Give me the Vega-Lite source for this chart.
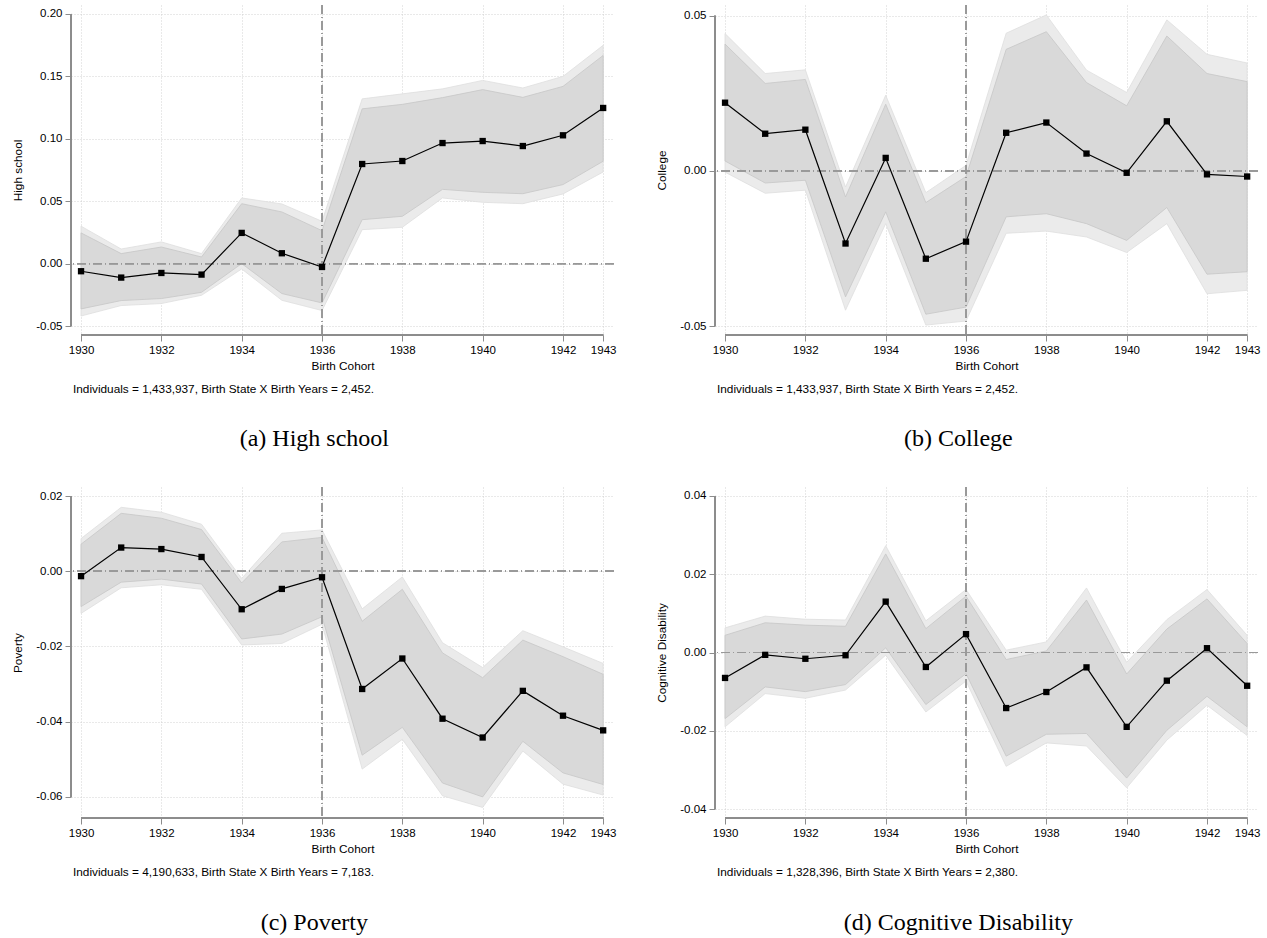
{
  "$schema": "https://vega.github.io/schema/vega-lite/v6.json",
  "background": "white",
  "padding": {"left": 12, "top": 4, "right": 4, "bottom": 4},
  "datasets": {
    "hs": [
      {"year": 1930, "est": -0.0061, "ci95_lo": -0.042, "ci95_hi": 0.030, "ci90_lo": -0.0363, "ci90_hi": 0.0246},
      {"year": 1931, "est": -0.0112, "ci95_lo": -0.0336, "ci95_hi": 0.0117, "ci90_lo": -0.0296, "ci90_hi": 0.008},
      {"year": 1932, "est": -0.0075, "ci95_lo": -0.032, "ci95_hi": 0.0174, "ci90_lo": -0.028, "ci90_hi": 0.0133},
      {"year": 1933, "est": -0.0088, "ci95_lo": -0.0254, "ci95_hi": 0.008, "ci90_lo": -0.023, "ci90_hi": 0.0053},
      {"year": 1934, "est": 0.0246, "ci95_lo": -0.0043, "ci95_hi": 0.0526, "ci90_lo": 0.000, "ci90_hi": 0.048},
      {"year": 1935, "est": 0.0083, "ci95_lo": -0.0294, "ci95_hi": 0.0478, "ci90_lo": -0.024, "ci90_hi": 0.0414},
      {"year": 1936, "est": -0.0027, "ci95_lo": -0.0376, "ci95_hi": 0.0339, "ci90_lo": -0.0315, "ci90_hi": 0.0264},
      {"year": 1937, "est": 0.0798, "ci95_lo": 0.0272, "ci95_hi": 0.132, "ci90_lo": 0.0352, "ci90_hi": 0.124},
      {"year": 1938, "est": 0.0822, "ci95_lo": 0.0291, "ci95_hi": 0.136, "ci90_lo": 0.0379, "ci90_hi": 0.1276},
      {"year": 1939, "est": 0.0966, "ci95_lo": 0.0526, "ci95_hi": 0.140, "ci90_lo": 0.0595, "ci90_hi": 0.133},
      {"year": 1940, "est": 0.0982, "ci95_lo": 0.0491, "ci95_hi": 0.1468, "ci90_lo": 0.0571, "ci90_hi": 0.1394},
      {"year": 1941, "est": 0.0942, "ci95_lo": 0.048, "ci95_hi": 0.1407, "ci90_lo": 0.056, "ci90_hi": 0.1332},
      {"year": 1942, "est": 0.1028, "ci95_lo": 0.0558, "ci95_hi": 0.150, "ci90_lo": 0.0633, "ci90_hi": 0.142},
      {"year": 1943, "est": 0.1247, "ci95_lo": 0.0734, "ci95_hi": 0.1749, "ci90_lo": 0.082, "ci90_hi": 0.1668}
    ],
    "college": [
      {"year": 1930, "est": 0.0220, "ci95_lo": -0.0004, "ci95_hi": 0.0443, "ci90_lo": 0.0032, "ci90_hi": 0.0409},
      {"year": 1931, "est": 0.0120, "ci95_lo": -0.0072, "ci95_hi": 0.0314, "ci90_lo": -0.0039, "ci90_hi": 0.0282},
      {"year": 1932, "est": 0.0133, "ci95_lo": -0.0062, "ci95_hi": 0.0326, "ci90_lo": -0.003, "ci90_hi": 0.0295},
      {"year": 1933, "est": -0.0234, "ci95_lo": -0.0449, "ci95_hi": -0.0052, "ci90_lo": -0.0406, "ci90_hi": -0.0084},
      {"year": 1934, "est": 0.0042, "ci95_lo": -0.017, "ci95_hi": 0.0244, "ci90_lo": -0.0132, "ci90_hi": 0.0215},
      {"year": 1935, "est": -0.0283, "ci95_lo": -0.0497, "ci95_hi": -0.007, "ci90_lo": -0.0462, "ci90_hi": -0.0102},
      {"year": 1936, "est": -0.0228, "ci95_lo": -0.0484, "ci95_hi": 0.0018, "ci90_lo": -0.0439, "ci90_hi": -0.0018},
      {"year": 1937, "est": 0.0123, "ci95_lo": -0.0201, "ci95_hi": 0.0444, "ci90_lo": -0.0148, "ci90_hi": 0.0392},
      {"year": 1938, "est": 0.0156, "ci95_lo": -0.0194, "ci95_hi": 0.0503, "ci90_lo": -0.0138, "ci90_hi": 0.0449},
      {"year": 1939, "est": 0.0056, "ci95_lo": -0.0213, "ci95_hi": 0.0325, "ci90_lo": -0.017, "ci90_hi": 0.0285},
      {"year": 1940, "est": -0.0006, "ci95_lo": -0.0263, "ci95_hi": 0.0253, "ci90_lo": -0.0224, "ci90_hi": 0.021},
      {"year": 1941, "est": 0.0160, "ci95_lo": -0.017, "ci95_hi": 0.0487, "ci90_lo": -0.0118, "ci90_hi": 0.0435},
      {"year": 1942, "est": -0.0011, "ci95_lo": -0.0396, "ci95_hi": 0.0376, "ci90_lo": -0.0333, "ci90_hi": 0.0314},
      {"year": 1943, "est": -0.0018, "ci95_lo": -0.0385, "ci95_hi": 0.0348, "ci90_lo": -0.0325, "ci90_hi": 0.0288}
    ],
    "poverty": [
      {"year": 1930, "est": -0.0013, "ci95_lo": -0.0112, "ci95_hi": 0.0087, "ci90_lo": -0.0094, "ci90_hi": 0.0072},
      {"year": 1931, "est": 0.0063, "ci95_lo": -0.0044, "ci95_hi": 0.017, "ci90_lo": -0.0029, "ci90_hi": 0.0154},
      {"year": 1932, "est": 0.0059, "ci95_lo": -0.0036, "ci95_hi": 0.0157, "ci90_lo": -0.0021, "ci90_hi": 0.0141},
      {"year": 1933, "est": 0.0038, "ci95_lo": -0.0048, "ci95_hi": 0.0125, "ci90_lo": -0.0034, "ci90_hi": 0.0111},
      {"year": 1934, "est": -0.0101, "ci95_lo": -0.0196, "ci95_hi": -0.0019, "ci90_lo": -0.018, "ci90_hi": -0.0031},
      {"year": 1935, "est": -0.0047, "ci95_lo": -0.0192, "ci95_hi": 0.0101, "ci90_lo": -0.0167, "ci90_hi": 0.0078},
      {"year": 1936, "est": -0.0016, "ci95_lo": -0.0141, "ci95_hi": 0.011, "ci90_lo": -0.0121, "ci90_hi": 0.009},
      {"year": 1937, "est": -0.0313, "ci95_lo": -0.0526, "ci95_hi": -0.010, "ci90_lo": -0.0489, "ci90_hi": -0.0133},
      {"year": 1938, "est": -0.0232, "ci95_lo": -0.0447, "ci95_hi": -0.0015, "ci90_lo": -0.0415, "ci90_hi": -0.0048},
      {"year": 1939, "est": -0.0392, "ci95_lo": -0.0597, "ci95_hi": -0.019, "ci90_lo": -0.0563, "ci90_hi": -0.0217},
      {"year": 1940, "est": -0.0442, "ci95_lo": -0.0628, "ci95_hi": -0.0256, "ci90_lo": -0.060, "ci90_hi": -0.0283},
      {"year": 1941, "est": -0.0318, "ci95_lo": -0.0478, "ci95_hi": -0.0158, "ci90_lo": -0.0452, "ci90_hi": -0.0183},
      {"year": 1942, "est": -0.0384, "ci95_lo": -0.0566, "ci95_hi": -0.0201, "ci90_lo": -0.0536, "ci90_hi": -0.0227},
      {"year": 1943, "est": -0.0423, "ci95_lo": -0.0595, "ci95_hi": -0.0245, "ci90_lo": -0.0567, "ci90_hi": -0.0274}
    ],
    "cognitive": [
      {"year": 1930, "est": -0.0065, "ci95_lo": -0.019, "ci95_hi": 0.0063, "ci90_lo": -0.0169, "ci90_hi": 0.0044},
      {"year": 1931, "est": -0.0006, "ci95_lo": -0.0105, "ci95_hi": 0.0093, "ci90_lo": -0.0088, "ci90_hi": 0.0076},
      {"year": 1932, "est": -0.0016, "ci95_lo": -0.0117, "ci95_hi": 0.0085, "ci90_lo": -0.010, "ci90_hi": 0.007},
      {"year": 1933, "est": -0.0007, "ci95_lo": -0.0096, "ci95_hi": 0.0083, "ci90_lo": -0.0082, "ci90_hi": 0.0067},
      {"year": 1934, "est": 0.0130, "ci95_lo": -0.0007, "ci95_hi": 0.0273, "ci90_lo": 0.0012, "ci90_hi": 0.0252},
      {"year": 1935, "est": -0.0037, "ci95_lo": -0.0152, "ci95_hi": 0.0081, "ci90_lo": -0.0133, "ci90_hi": 0.0061},
      {"year": 1936, "est": 0.0047, "ci95_lo": -0.0073, "ci95_hi": 0.0161, "ci90_lo": -0.0054, "ci90_hi": 0.0144},
      {"year": 1937, "est": -0.0142, "ci95_lo": -0.0291, "ci95_hi": 0.0006, "ci90_lo": -0.0265, "ci90_hi": -0.0018},
      {"year": 1938, "est": -0.0101, "ci95_lo": -0.0231, "ci95_hi": 0.0027, "ci90_lo": -0.0209, "ci90_hi": 0.0004},
      {"year": 1939, "est": -0.0038, "ci95_lo": -0.0239, "ci95_hi": 0.0165, "ci90_lo": -0.0207, "ci90_hi": 0.0134},
      {"year": 1940, "est": -0.0190, "ci95_lo": -0.0346, "ci95_hi": -0.0025, "ci90_lo": -0.0321, "ci90_hi": -0.0055},
      {"year": 1941, "est": -0.0072, "ci95_lo": -0.0224, "ci95_hi": 0.0084, "ci90_lo": -0.0199, "ci90_hi": 0.006},
      {"year": 1942, "est": 0.0011, "ci95_lo": -0.0135, "ci95_hi": 0.0161, "ci90_lo": -0.0112, "ci90_hi": 0.0137},
      {"year": 1943, "est": -0.0085, "ci95_lo": -0.0212, "ci95_hi": 0.0044, "ci90_lo": -0.019, "ci90_hi": 0.0023}
    ]
  },
  "spacing": 34,
  "vconcat": [
    {
      "spacing": 40,
      "hconcat": [
        {
          "title": {"text": "(a) High school", "orient": "bottom", "anchor": "middle", "font": "Liberation Serif", "fontSize": 24, "fontWeight": "normal", "offset": 31, "color": "#000"},
          "vconcat": [
            {
              "width": 543, "height": 330,
              "data": {"name": "hs"},
              "title": {"text": "Individuals = 1,433,937, Birth State X Birth Years = 2,452.", "orient": "bottom", "anchor": "start", "frame": "group", "offset": 12, "dx": 2, "font": "Liberation Sans", "fontSize": 11.8, "fontWeight": "normal", "color": "#000"},
              "layer": [
                {"mark": {"type": "area", "fill": "#ebebeb", "stroke": "#dedede", "strokeWidth": 0.8},
                 "encoding": {
                   "x": {"field": "year", "type": "quantitative", "scale": {"domain": [1929.75, 1943.27], "nice": false, "zero": false}, "axis": {"title": "Birth Cohort", "values": [1930, 1932, 1934, 1936, 1938, 1940, 1942, 1943], "format": "d", "labelFlush": false, "labelOverlap": false}},
                   "y": {"field": "ci95_lo", "type": "quantitative", "scale": {"domain": [-0.0572, 0.2072], "nice": false, "zero": false}, "axis": {"title": "High school", "values": [-0.05, 0, 0.05, 0.1, 0.15, 0.2], "format": ".2f", "labelExpr": "replace(datum.label, '\u2212', '-')"}},
                   "y2": {"field": "ci95_hi"}}},
                {"mark": {"type": "area", "fill": "#d9d9d9", "stroke": "#c6c6c6", "strokeWidth": 0.8},
                 "encoding": {
                   "x": {"field": "year", "type": "quantitative"},
                   "y": {"field": "ci90_lo", "type": "quantitative"},
                   "y2": {"field": "ci90_hi"}}},
                {"mark": {"type": "rule", "color": "#999999", "strokeWidth": 1, "strokeDash": [9, 3, 1, 3]},
                 "encoding": {"y": {"datum": 0, "type": "quantitative"}}},
                {"mark": {"type": "rule", "color": "#999999", "strokeWidth": 1, "strokeDash": [9, 3, 1, 3]},
                 "encoding": {"x": {"datum": 1936, "type": "quantitative"}}},
                {"mark": {"type": "rule", "color": "#8c8c8c", "strokeWidth": 1},
                 "encoding": {"x": {"datum": 1930, "type": "quantitative"}, "x2": {"datum": 1943}, "y": {"datum": -0.0572, "type": "quantitative"}}},
                {"mark": {"type": "rule", "color": "#8c8c8c", "strokeWidth": 1},
                 "encoding": {"y": {"datum": -0.05, "type": "quantitative"}, "y2": {"datum": 0.2}, "x": {"datum": 1929.75, "type": "quantitative"}}},
                {"mark": {"type": "line", "color": "#000000", "strokeWidth": 1.2},
                 "encoding": {
                   "x": {"field": "year", "type": "quantitative"},
                   "y": {"field": "est", "type": "quantitative"}}},
                {"mark": {"type": "point", "shape": "square", "filled": true, "color": "#000000", "size": 40, "opacity": 1},
                 "encoding": {
                   "x": {"field": "year", "type": "quantitative"},
                   "y": {"field": "est", "type": "quantitative"}}}
              ]
            }
          ]
        },
        {
          "title": {"text": "(b) College", "orient": "bottom", "anchor": "middle", "font": "Liberation Serif", "fontSize": 24, "fontWeight": "normal", "offset": 31, "color": "#000"},
          "vconcat": [
            {
              "width": 543, "height": 330,
              "data": {"name": "college"},
              "title": {"text": "Individuals = 1,433,937, Birth State X Birth Years = 2,452.", "orient": "bottom", "anchor": "start", "frame": "group", "offset": 12, "dx": 2, "font": "Liberation Sans", "fontSize": 11.8, "fontWeight": "normal", "color": "#000"},
              "layer": [
                {"mark": {"type": "area", "fill": "#ebebeb", "stroke": "#dedede", "strokeWidth": 0.8},
                 "encoding": {
                   "x": {"field": "year", "type": "quantitative", "scale": {"domain": [1929.75, 1943.27], "nice": false, "zero": false}, "axis": {"title": "Birth Cohort", "values": [1930, 1932, 1934, 1936, 1938, 1940, 1942, 1943], "format": "d", "labelFlush": false, "labelOverlap": false}},
                   "y": {"field": "ci95_lo", "type": "quantitative", "scale": {"domain": [-0.0529, 0.0535], "nice": false, "zero": false}, "axis": {"title": "College", "values": [-0.05, 0, 0.05], "format": ".2f", "labelExpr": "replace(datum.label, '\u2212', '-')"}},
                   "y2": {"field": "ci95_hi"}}},
                {"mark": {"type": "area", "fill": "#d9d9d9", "stroke": "#c6c6c6", "strokeWidth": 0.8},
                 "encoding": {
                   "x": {"field": "year", "type": "quantitative"},
                   "y": {"field": "ci90_lo", "type": "quantitative"},
                   "y2": {"field": "ci90_hi"}}},
                {"mark": {"type": "rule", "color": "#999999", "strokeWidth": 1, "strokeDash": [9, 3, 1, 3]},
                 "encoding": {"y": {"datum": 0, "type": "quantitative"}}},
                {"mark": {"type": "rule", "color": "#999999", "strokeWidth": 1, "strokeDash": [9, 3, 1, 3]},
                 "encoding": {"x": {"datum": 1936, "type": "quantitative"}}},
                {"mark": {"type": "rule", "color": "#8c8c8c", "strokeWidth": 1},
                 "encoding": {"x": {"datum": 1930, "type": "quantitative"}, "x2": {"datum": 1943}, "y": {"datum": -0.0529, "type": "quantitative"}}},
                {"mark": {"type": "rule", "color": "#8c8c8c", "strokeWidth": 1},
                 "encoding": {"y": {"datum": -0.05, "type": "quantitative"}, "y2": {"datum": 0.05}, "x": {"datum": 1929.75, "type": "quantitative"}}},
                {"mark": {"type": "line", "color": "#000000", "strokeWidth": 1.2},
                 "encoding": {
                   "x": {"field": "year", "type": "quantitative"},
                   "y": {"field": "est", "type": "quantitative"}}},
                {"mark": {"type": "point", "shape": "square", "filled": true, "color": "#000000", "size": 40, "opacity": 1},
                 "encoding": {
                   "x": {"field": "year", "type": "quantitative"},
                   "y": {"field": "est", "type": "quantitative"}}}
              ]
            }
          ]
        }
      ]
    },
    {
      "spacing": 40,
      "hconcat": [
        {
          "title": {"text": "(c) Poverty", "orient": "bottom", "anchor": "middle", "font": "Liberation Serif", "fontSize": 24, "fontWeight": "normal", "offset": 32, "color": "#000"},
          "vconcat": [
            {
              "width": 543, "height": 331,
              "data": {"name": "poverty"},
              "title": {"text": "Individuals = 4,190,633, Birth State X Birth Years = 7,183.", "orient": "bottom", "anchor": "start", "frame": "group", "offset": 12, "dx": 2, "font": "Liberation Sans", "fontSize": 11.8, "fontWeight": "normal", "color": "#000"},
              "layer": [
                {"mark": {"type": "area", "fill": "#ebebeb", "stroke": "#dedede", "strokeWidth": 0.8},
                 "encoding": {
                   "x": {"field": "year", "type": "quantitative", "scale": {"domain": [1929.75, 1943.27], "nice": false, "zero": false}, "axis": {"title": "Birth Cohort", "values": [1930, 1932, 1934, 1936, 1938, 1940, 1942, 1943], "format": "d", "labelFlush": false, "labelOverlap": false}},
                   "y": {"field": "ci95_lo", "type": "quantitative", "scale": {"domain": [-0.0656, 0.0224], "nice": false, "zero": false}, "axis": {"title": "Poverty", "values": [-0.06, -0.04, -0.02, 0, 0.02], "format": ".2f", "labelExpr": "replace(datum.label, '\u2212', '-')"}},
                   "y2": {"field": "ci95_hi"}}},
                {"mark": {"type": "area", "fill": "#d9d9d9", "stroke": "#c6c6c6", "strokeWidth": 0.8},
                 "encoding": {
                   "x": {"field": "year", "type": "quantitative"},
                   "y": {"field": "ci90_lo", "type": "quantitative"},
                   "y2": {"field": "ci90_hi"}}},
                {"mark": {"type": "rule", "color": "#999999", "strokeWidth": 1, "strokeDash": [9, 3, 1, 3]},
                 "encoding": {"y": {"datum": 0, "type": "quantitative"}}},
                {"mark": {"type": "rule", "color": "#999999", "strokeWidth": 1, "strokeDash": [9, 3, 1, 3]},
                 "encoding": {"x": {"datum": 1936, "type": "quantitative"}}},
                {"mark": {"type": "rule", "color": "#8c8c8c", "strokeWidth": 1},
                 "encoding": {"x": {"datum": 1930, "type": "quantitative"}, "x2": {"datum": 1943}, "y": {"datum": -0.0656, "type": "quantitative"}}},
                {"mark": {"type": "rule", "color": "#8c8c8c", "strokeWidth": 1},
                 "encoding": {"y": {"datum": -0.06, "type": "quantitative"}, "y2": {"datum": 0.02}, "x": {"datum": 1929.75, "type": "quantitative"}}},
                {"mark": {"type": "line", "color": "#000000", "strokeWidth": 1.2},
                 "encoding": {
                   "x": {"field": "year", "type": "quantitative"},
                   "y": {"field": "est", "type": "quantitative"}}},
                {"mark": {"type": "point", "shape": "square", "filled": true, "color": "#000000", "size": 40, "opacity": 1},
                 "encoding": {
                   "x": {"field": "year", "type": "quantitative"},
                   "y": {"field": "est", "type": "quantitative"}}}
              ]
            }
          ]
        },
        {
          "title": {"text": "(d) Cognitive Disability", "orient": "bottom", "anchor": "middle", "font": "Liberation Serif", "fontSize": 24, "fontWeight": "normal", "offset": 32, "color": "#000"},
          "vconcat": [
            {
              "width": 543, "height": 331,
              "data": {"name": "cognitive"},
              "title": {"text": "Individuals = 1,328,396, Birth State X Birth Years = 2,380.", "orient": "bottom", "anchor": "start", "frame": "group", "offset": 12, "dx": 2, "font": "Liberation Sans", "fontSize": 11.8, "fontWeight": "normal", "color": "#000"},
              "layer": [
                {"mark": {"type": "area", "fill": "#ebebeb", "stroke": "#dedede", "strokeWidth": 0.8},
                 "encoding": {
                   "x": {"field": "year", "type": "quantitative", "scale": {"domain": [1929.75, 1943.27], "nice": false, "zero": false}, "axis": {"title": "Birth Cohort", "values": [1930, 1932, 1934, 1936, 1938, 1940, 1942, 1943], "format": "d", "labelFlush": false, "labelOverlap": false}},
                   "y": {"field": "ci95_lo", "type": "quantitative", "scale": {"domain": [-0.0423, 0.0423], "nice": false, "zero": false}, "axis": {"title": "Cognitive Disability", "values": [-0.04, -0.02, 0, 0.02, 0.04], "format": ".2f", "labelExpr": "replace(datum.label, '\u2212', '-')"}},
                   "y2": {"field": "ci95_hi"}}},
                {"mark": {"type": "area", "fill": "#d9d9d9", "stroke": "#c6c6c6", "strokeWidth": 0.8},
                 "encoding": {
                   "x": {"field": "year", "type": "quantitative"},
                   "y": {"field": "ci90_lo", "type": "quantitative"},
                   "y2": {"field": "ci90_hi"}}},
                {"mark": {"type": "rule", "color": "#999999", "strokeWidth": 1, "strokeDash": [9, 3, 1, 3]},
                 "encoding": {"y": {"datum": 0, "type": "quantitative"}}},
                {"mark": {"type": "rule", "color": "#999999", "strokeWidth": 1, "strokeDash": [9, 3, 1, 3]},
                 "encoding": {"x": {"datum": 1936, "type": "quantitative"}}},
                {"mark": {"type": "rule", "color": "#8c8c8c", "strokeWidth": 1},
                 "encoding": {"x": {"datum": 1930, "type": "quantitative"}, "x2": {"datum": 1943}, "y": {"datum": -0.0423, "type": "quantitative"}}},
                {"mark": {"type": "rule", "color": "#8c8c8c", "strokeWidth": 1},
                 "encoding": {"y": {"datum": -0.04, "type": "quantitative"}, "y2": {"datum": 0.04}, "x": {"datum": 1929.75, "type": "quantitative"}}},
                {"mark": {"type": "line", "color": "#000000", "strokeWidth": 1.2},
                 "encoding": {
                   "x": {"field": "year", "type": "quantitative"},
                   "y": {"field": "est", "type": "quantitative"}}},
                {"mark": {"type": "point", "shape": "square", "filled": true, "color": "#000000", "size": 40, "opacity": 1},
                 "encoding": {
                   "x": {"field": "year", "type": "quantitative"},
                   "y": {"field": "est", "type": "quantitative"}}}
              ]
            }
          ]
        }
      ]
    }
  ],
  "config": {
    "view": {"stroke": null},
    "font": "Liberation Sans",
    "axis": {
      "domain": false,
      "labelFont": "Liberation Sans",
      "labelFontSize": 11.5,
      "labelColor": "#000000",
      "titleFont": "Liberation Sans",
      "titleFontSize": 11.8,
      "titleFontWeight": "normal",
      "titleColor": "#000000",
      "tickColor": "#8c8c8c",
      "tickSize": 6,
      "tickWidth": 1,
      "labelPadding": 3,
      "gridColor": "#c8c8c8",
      "gridDash": [1, 2],
      "gridWidth": 0.8
    },
    "axisX": {"titlePadding": 5},
    "axisY": {"titlePadding": 12},
    "title": {"fontWeight": "normal", "color": "#000000"}
  }
}
